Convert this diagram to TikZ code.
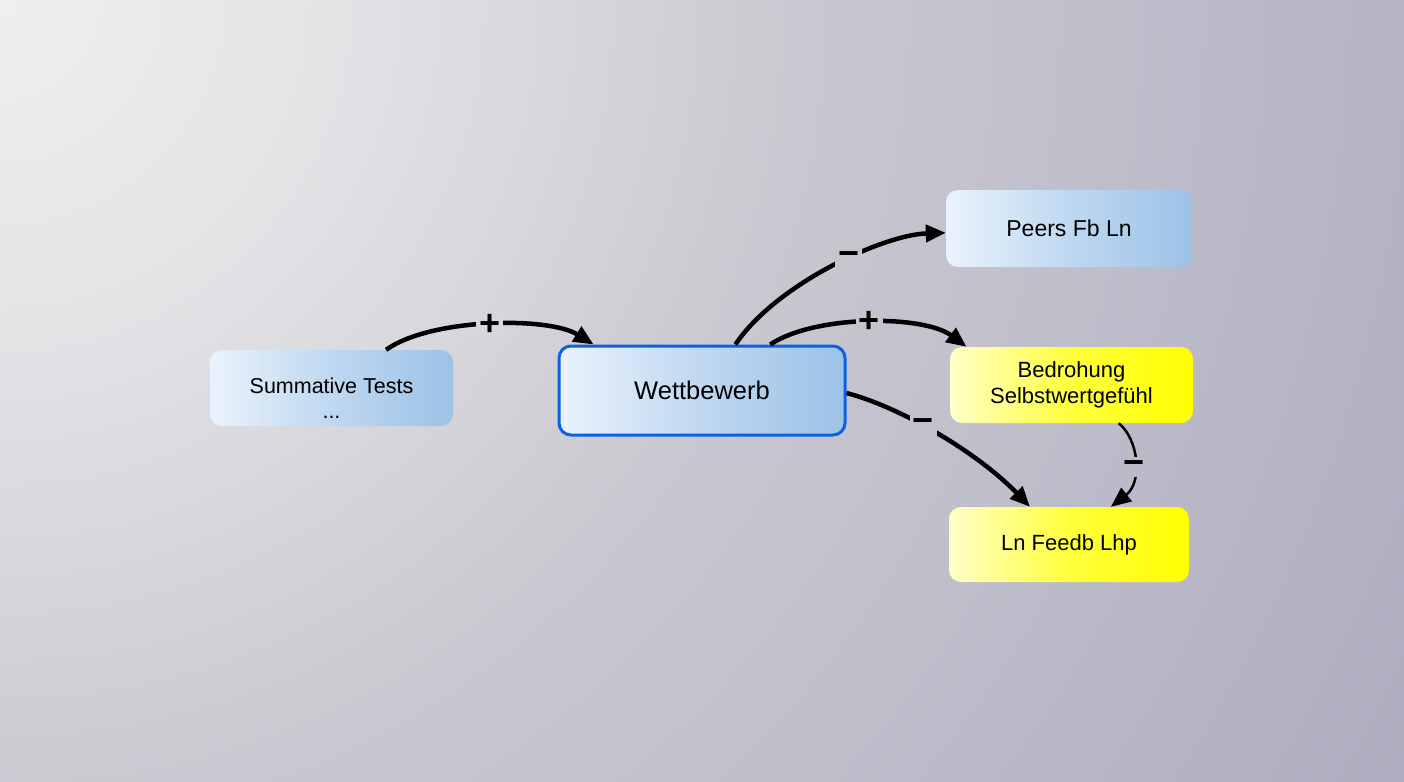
\documentclass[tikz,border=0pt]{standalone}
\usepackage{fontspec}
\setmainfont{Liberation Sans}
\usetikzlibrary{arrows.meta}

\definecolor{bglight}{HTML}{EFEFF0}
\definecolor{bgnear}{HTML}{E4E4E7}
\definecolor{bgmid}{HTML}{C9C8D0}
\definecolor{bgfar}{HTML}{B5B4C5}
\definecolor{bgdark}{HTML}{ADABBD}
\definecolor{boxlight}{HTML}{EAF2FC}
\definecolor{boxblue}{HTML}{9CC2E7}
\definecolor{boxyellow}{HTML}{FFFF00}
\definecolor{boxpale}{HTML}{FFFFC8}
\definecolor{focusblue}{HTML}{0B60E4}

% glow from the upper left corner
\pgfdeclareradialshading{canvasglow}{\pgfpointorigin}{%
    color(0bp)=(bglight); color(5bp)=(bgnear); color(12.5bp)=(bgmid);
    color(21.5bp)=(bgfar); color(25bp)=(bgdark); color(50bp)=(bgdark)}

\begin{document}
\begin{tikzpicture}[
    x=1pt,
    y=-1pt,
    box/.style={
        rounded corners=12pt,
        align=center,
        inner sep=0pt,
        minimum width=243pt,
        minimum height=76pt,
        left color=boxlight,
        right color=boxblue,
        middle color=boxblue!55!boxlight,
        font=\fontsize{22}{25}\selectfont
    },
    warnbox/.style={
        box,
        left color=boxpale,
        right color=boxyellow,
        middle color=boxyellow!70!boxpale,
        font=\fontsize{22}{26}\selectfont
    },
    link/.style={
        line width=4.5pt,
        -{Triangle[length=20pt,width=17pt]}
    },
    sign/.style={
        font=\bfseries\fontsize{36}{36}\selectfont,
        inner sep=3pt,
        minimum height=18pt
    }
]
    % Canvas
    \useasboundingbox (0,0) rectangle (1404,781);
    \begin{scope}
        \clip (0,0) rectangle (1404,781);
        \shade[shading=canvasglow] (0,0) circle (1620);
    \end{scope}

    % Nodes
    \node[box, font=\fontsize{21.5}{25}\selectfont] (sum) at (331.5,388)
        {\strut\\Summative Tests\\...\strut};
    \node[box, minimum width=286pt, minimum height=89pt, draw=focusblue, line width=3pt,
        font=\fontsize{25.5}{28}\selectfont] (wett) at (702,390.5) {Wettbewerb};
    \node[box, minimum width=246pt, minimum height=77pt, font=\fontsize{23}{26}\selectfont]
        (peers) at (1069,228.5) {Peers Fb Ln};
    \node[warnbox] (bedr) at (1071.5,385) {Bedrohung\\Selbstwertgefühl};
    \node[warnbox, minimum width=240pt, minimum height=75pt] (lnfb) at (1069,544.5) {Ln Feedb Lhp};

    % Influences
    \draw[link] (sum.35) .. controls +(45,-32) and +(-45,-28) .. (wett.157)
        node[sign, pos=0.5, fill={rgb,255:red,214;green,214;blue,219}] {+};
    \draw[link] (wett.54) .. controls +(40,-60) and +(-63,2) .. (peers.182)
        node[sign, pos=0.57, fill={rgb,255:red,198;green,197;blue,206}] {−};
    \draw[link] (wett.34) .. controls +(45,-30) and +(-43,-32) .. (bedr.160)
        node[sign, pos=0.5, fill={rgb,255:red,197;green,196;blue,205}] {+};
    \draw[link] (wett.-1) .. controls +(54,14) and +(-52,-54) .. (lnfb.136)
        node[sign, pos=0.42, fill={rgb,255:red,194;green,193;blue,203}] {−};
    \draw[link, line width=2.5pt] (bedr.-39) .. controls +(20,16) and +(32,-25) .. (lnfb.42)
        node[sign, pos=0.56, fill={rgb,255:red,187;green,186;blue,198}] {−};
\end{tikzpicture}
\end{document}
